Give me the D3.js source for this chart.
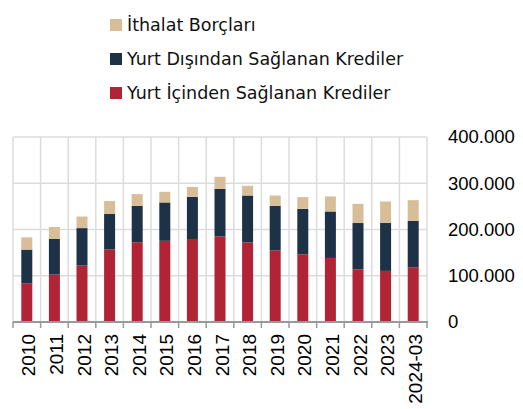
<!DOCTYPE html>
<html>
<head>
<meta charset="utf-8">
<script src="https://cdn.jsdelivr.net/npm/d3@7"></script>
<style>
	body { margin: 0; background: #fff; }
	svg { display: block; }
</style>
</head>
<body>
<div id="chart"></div>
<script>
var years = ["2010", "2011", "2012", "2013", "2014", "2015", "2016", "2017", "2018", "2019", "2020", "2021", "2022", "2023", "2024-03"];
var yurtIci = [83000, 102500, 122000, 157000, 172500, 175500, 179500, 185000, 172000, 154500, 146500, 138500, 114000, 110500, 118500];
var yurtDisi = [73500, 77000, 81000, 76500, 78500, 83000, 91000, 103000, 101500, 96500, 98000, 100500, 100000, 103500, 100000];
var ithalat = [26500, 26000, 25000, 28000, 25500, 23000, 21500, 26000, 21000, 22500, 25500, 32500, 41500, 46500, 45000];
var seriesNames = ["Yurt İçinden Sağlanan Krediler", "Yurt Dışından Sağlanan Krediler", "İthalat Borçları"];
var seriesColors = ["#b12436", "#1d3247", "#d7be99"];
var yTicks = [0, 100000, 200000, 300000, 400000];

var ctx = {
	width: 523,
	height: 409,
	left: 13,
	right: 427,
	top: 137,
	bottom: 322,
};

var svg = d3.select("#chart")
	.append("svg")
	.attr("width", ctx.width)
	.attr("height", ctx.height);

var rows = years.map(function (y, i) {
	return { year: y, ici: yurtIci[i], disi: yurtDisi[i], ithalat: ithalat[i] };
});
var stacked = d3.stack().keys(["ici", "disi", "ithalat"])(rows);

var xscale = d3.scaleBand()
	.domain(years)
	.range([ctx.left, ctx.right])
	.paddingInner(0)
	.paddingOuter(0);
var yscale = d3.scaleLinear()
	.domain([0, 400000])
	.range([ctx.bottom, ctx.top]);

// grid
svg.append("g")
	.selectAll("line")
	.data(yTicks.slice(1))
	.join("line")
	.attr("x1", ctx.left)
	.attr("x2", ctx.right)
	.attr("y1", (d) => yscale(d))
	.attr("y2", (d) => yscale(d))
	.attr("stroke", "#dcdcdc")
	.attr("stroke-width", 1.5);

var bounds = years.map((y) => xscale(y)).concat([ctx.right]);
svg.append("g")
	.selectAll("line")
	.data(bounds)
	.join("line")
	.attr("x1", (d) => d)
	.attr("x2", (d) => d)
	.attr("y1", ctx.top)
	.attr("y2", ctx.bottom)
	.attr("stroke", "#dcdcdc")
	.attr("stroke-width", 1.5);

// bars
var barW = 11;
svg.append("g")
	.selectAll("g")
	.data(stacked)
	.join("g")
	.attr("fill", (d, i) => seriesColors[i])
	.selectAll("rect")
	.data((d) => d)
	.join("rect")
	.attr("x", (d) => xscale(d.data.year) + xscale.bandwidth() / 2 - barW / 2)
	.attr("width", barW)
	.attr("y", (d) => yscale(d[1]))
	.attr("height", (d) => yscale(d[0]) - yscale(d[1]));

// x axis
var xaxis = svg.append("g")
	.attr("class", "x-axis")
	.attr("transform", "translate(0," + ctx.bottom + ")");
xaxis.append("line")
	.attr("x1", ctx.left)
	.attr("x2", ctx.right + 1)
	.attr("stroke", "#999")
	.attr("stroke-width", 2);
xaxis.selectAll(".tick")
	.data(bounds)
	.join("line")
	.attr("class", "tick")
	.attr("x1", (d) => d)
	.attr("x2", (d) => d)
	.attr("y1", 0)
	.attr("y2", 6)
	.attr("stroke", "#999")
	.attr("stroke-width", 1.5);
xaxis.selectAll("text")
	.data(years)
	.join("text")
	.attr("transform", (d) => "translate(" + (xscale(d) + xscale.bandwidth() / 2 + 2) + ",12) rotate(-90)")
	.attr("dy", "0.35em")
	.attr("text-anchor", "end")
	.style("font-family", "'Liberation Sans', Arial, sans-serif")
	.style("font-size", "19px")
	.attr("fill", "#000")
	.text((d) => d);

// y axis labels on right
svg.append("g")
	.selectAll("text")
	.data(yTicks)
	.join("text")
	.attr("x", 448)
	.attr("y", (d) => yscale(d))
	.attr("dy", "0.35em")
	.style("font-family", "'Liberation Sans', Arial, sans-serif")
	.style("font-size", "18.5px")
	.attr("fill", "#000")
	.text((d) => d3.format(",")(d).replace(/,/g, "."));

// legend
var legendOrder = [2, 1, 0];
var legend = svg.append("g")
	.selectAll("g")
	.data(legendOrder)
	.join("g")
	.attr("transform", (d, i) => "translate(110," + (25 + i * 34) + ")");
legend.append("rect")
	.attr("x", 0)
	.attr("y", -6)
	.attr("width", 12)
	.attr("height", 12)
	.attr("fill", (d) => seriesColors[d]);
legend.append("text")
	.attr("x", 17)
	.attr("y", 0)
	.attr("dy", "0.35em")
	.style("font-family", "'DejaVu Sans', Verdana, sans-serif")
	.style("font-size", "17.5px")
	.attr("fill", "#111")
	.text((d) => seriesNames[d]);
</script>
</body>
</html>
